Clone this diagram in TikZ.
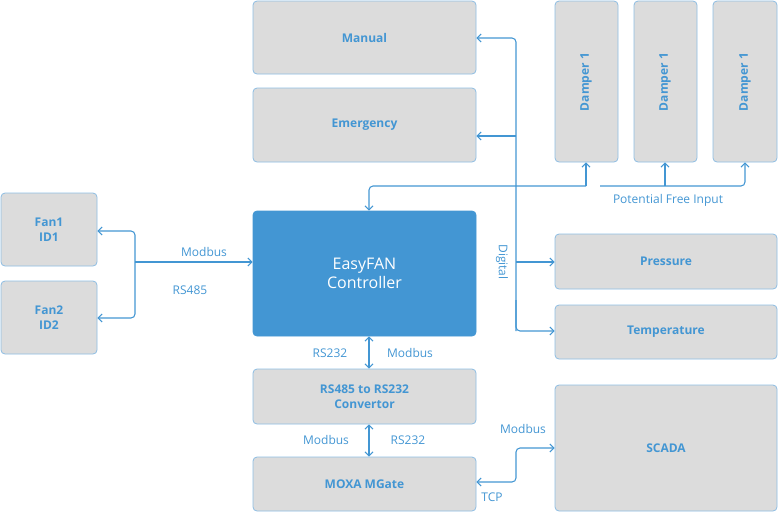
\documentclass[tikz,border=0pt]{standalone}
\usepackage{fontspec}
\setmainfont{Open Sans}
\usetikzlibrary{arrows.meta}
\definecolor{tc}{HTML}{4396D3}
\definecolor{bf}{HTML}{DCDCDC}
\definecolor{bd}{HTML}{8DBDE3}
\begin{document}
\begin{tikzpicture}[x=0.75pt,y=-0.75pt,
 box/.style={draw=bd,fill=bf,rounded corners=3pt,line width=0.6pt,text=tc,font=\bfseries\fontsize{9}{11}\selectfont,align=center},
 ln/.style={draw=tc,line width=0.8pt,rounded corners=3pt},
 ar/.style={ln,-{Straight Barb[length=3pt,width=6pt]}},
 da/.style={ln,{Straight Barb[length=3pt,width=6pt]}-{Straight Barb[length=3pt,width=6pt]}},
 lb/.style={text=tc,font=\fontsize{9}{11}\selectfont}]
\useasboundingbox (0,0) rectangle (778,512);
\newcommand\bx[6]{\node[box,minimum width={(#4-#2)*0.75pt},minimum height={(#5-#3)*0.75pt},#6] (#1) at ({(#2+#4)/2},{(#3+#5)/2}) {};}
\bx{man}{253}{1}{476}{74}{} \node[text=tc,font=\bfseries\fontsize{9}{11}\selectfont] at (man) {Manual};
\bx{emg}{253}{88}{476}{162}{} \node[text=tc,font=\bfseries\fontsize{9}{11}\selectfont] at (emg) {Emergency};
\bx{d1}{555}{1}{618}{162}{} \node[rotate=90,text=tc,font=\bfseries\fontsize{9}{11}\selectfont] at (586,82) {Damper 1};
\bx{d2}{634}{1}{697}{162}{} \node[rotate=90,text=tc,font=\bfseries\fontsize{9}{11}\selectfont] at (665,82) {Damper 1};
\bx{d3}{713}{1}{777}{162}{} \node[rotate=90,text=tc,font=\bfseries\fontsize{9}{11}\selectfont] at (745,82) {Damper 1};
\bx{f1}{1}{193}{97}{266}{} \node[text=tc,font=\bfseries\fontsize{9}{11}\selectfont,align=center] at (f1) {Fan1\\ID1};
\bx{f2}{1}{281}{97}{354}{} \node[text=tc,font=\bfseries\fontsize{9}{11}\selectfont,align=center] at (f2) {Fan2\\ID2};
\bx{ef}{253}{211}{476}{336}{fill=tc,draw=tc} \node[text=white,font=\fontsize{12}{14}\selectfont,align=center] at (ef) {EasyFAN\\Controller};
\bx{pr}{555}{234}{777}{289}{} \node[text=tc,font=\bfseries\fontsize{9}{11}\selectfont] at (pr) {Pressure};
\bx{te}{555}{305}{777}{359}{} \node[text=tc,font=\bfseries\fontsize{9}{11}\selectfont] at (te) {Temperature};
\bx{cv}{253}{369}{476}{424}{} \node[text=tc,font=\bfseries\fontsize{9}{11}\selectfont,align=center] at (cv) {RS485 to RS232\\Convertor};
\bx{mx}{253}{457}{476}{511}{} \node[text=tc,font=\bfseries\fontsize{9}{11}\selectfont] at (mx) {MOXA MGate};
\bx{sc}{555}{385}{777}{511}{} \node[text=tc,font=\bfseries\fontsize{9}{11}\selectfont] at (sc) {SCADA};
% digital bus
\coordinate (dt) at (516,38);
\draw[ar] (516,331) -- (dt) -- (man.east|-dt);
\draw[ar] (516,136) -- (emg.east|-0,136);
\draw[ar] (516,262) -- (pr.west|-0,262);
\draw[ar] (516,300) -- (516,331) -- (te.west|-0,331);
\node[lb,rotate=-90] at (502,262) {Digital};
% potential free
\draw[ar] (586,186) -- (369,186) -- (ef.north-|369,0);
\draw[ar] (586,186) -- (d1.south-|586,0);
\draw[ar] (665,186) -- (d2.south-|665,0);
\draw[ar] (600,186) -- (745,186) -- (d3.south-|745,0);
\node[lb] at (668,200) {Potential Free Input};
% modbus left
\draw[ar] (135,262) -- (ef.west|-0,262);
\draw[ar] (135,262) -- (135,231) -- (f1.east|-0,231);
\draw[ar] (135,262) -- (135,318) -- (f2.east|-0,318);
\node[lb] at (204,259) [above=-2pt] {Modbus};
\node[lb] at (190,290) {RS485};
% vertical links
\draw[da] (ef.south-|369,0) -- (cv.north-|369,0);
\node[lb] at (330,353) {RS232}; \node[lb] at (410,353) {Modbus};
\draw[da] (cv.south-|369,0) -- (mx.north-|369,0);
\node[lb] at (326,440) {Modbus}; \node[lb] at (408,440) {RS232};
\draw[da] (mx.east|-0,482) -- (516,482) -- (516,448) -- (sc.west|-0,448);
\node[lb] at (523,429) {Modbus}; \node[lb] at (492,497) {TCP};
\end{tikzpicture}
\end{document}
